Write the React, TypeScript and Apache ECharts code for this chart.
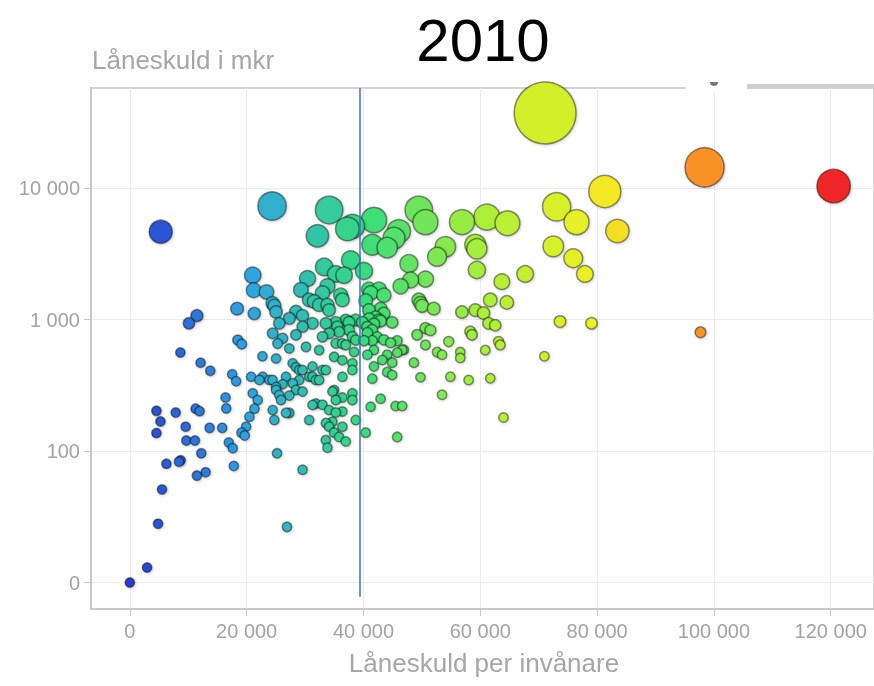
import React, { useEffect, useRef } from "react";
import * as echarts from "echarts";

// [debt per inhabitant (kr), total debt (mkr)]
const blueGroup: [number, number][] = [
  [0, 10], [2950, 13], [4830, 28], [5510, 51], [6260, 80], [8410, 83], [8700, 85], [11480, 65], [12970, 69], [12230, 96], [17800, 77],
  [4550, 202], [5240, 168], [4550, 137], [7850, 196], [9550, 153], [9670, 120], [11140, 120], [11260, 210], [11940, 201], [13650, 150],
  [15810, 150], [16940, 116], [17620, 105], [16380, 255], [16500, 211], [19110, 138], [19670, 131], [19900, 153], [17520, 383], [18200, 339],
  [8650, 561], [12110, 469], [13770, 407], [10120, 936], [11480, 1070], [18480, 698], [19160, 650], [18370, 1210], [5290, 4650],
];

const tealGroup: [number, number][] = [
  [20470, 182], [24350, 7290], [21040, 2170], [21200, 1670], [23400, 1620], [24740, 1270], [25030, 1140], [21300, 1110],
  [22700, 525], [25030, 505], [20760, 367], [22180, 347], [21040, 275], [21890, 244], [21330, 210],
  [24450, 1330], [25590, 935], [24450, 785], [25300, 656], [26150, 719],
  [27300, 1020], [28440, 1150], [29570, 1070], [29570, 882], [28440, 765], [27300, 602],
  [22740, 367], [23890, 347], [25030, 306], [26150, 322], [27300, 264], [28440, 291], [24450, 205], [27300, 195], [25880, 244],
  [28440, 434], [24740, 172], [26730, 195], [25200, 96], [29570, 72], [26900, 26.5],
  [29290, 1680], [25030, 291], [25590, 267], [24450, 347], [26730, 367], [27870, 327], [29000, 347], [29570, 283], [27870, 465],
  [29000, 413], [29570, 413],
];

const greenGroup: [number, number][] = [
  [30150, 620], [30710, 367], [31850, 347], [32980, 413],
  [34120, 6810], [37240, 4890], [38100, 5110], [32120, 4330],
  [37820, 2830], [33270, 2510], [36680, 2170], [35260, 2220],
  [30420, 2050], [33830, 1790], [36100, 1530], [30710, 1410], [32980, 1590],
  [31560, 1370], [32410, 1290], [33830, 1290], [34120, 1180], [36390, 1410],
  [35540, 882], [34120, 785], [36390, 656], [37530, 832], [38670, 698], [38670, 991],
  [30710, 172], [31850, 230], [32980, 225], [34120, 205], [35260, 196], [34120, 153], [36390, 153], [33550, 121], [35830, 128],
  [36970, 118], [33830, 106], [35260, 244], [36390, 255], [38100, 244], [38670, 172],
  [35260, 950], [37530, 950], [35830, 805], [34970, 520], [36390, 367], [34970, 291], [38100, 275], [36390, 200], [34970, 138],
  [38390, 566], [38100, 413], [33560, 163], [34690, 167], [31270, 224], [34690, 283],
  [31270, 935], [33560, 935], [36970, 990], [38100, 740], [32980, 740], [35260, 660], [36970, 640], [32410, 585],
  [36390, 490], [38100, 465], [31270, 440], [33560, 413], [31270, 367], [32410, 347],
];

const limeGroup: [number, number][] = [
  [41800, 5710], [49470, 6810], [50610, 5500], [46060, 4700], [45210, 4150], [41500, 3700], [44060, 3520],
  [47770, 2660], [48060, 2000], [50610, 2030], [46350, 1790], [43500, 1530], [41230, 1590], [49470, 1410], [50040, 1270],
  [40090, 2340], [40940, 1690], [42650, 1690], [40380, 1390], [40940, 1180], [42080, 1045], [42930, 972], [41790, 925],
  [40660, 876], [44920, 950], [43500, 700], [45770, 690], [46910, 590], [42360, 735], [41790, 586], [40660, 540], [44060, 540],
  [41790, 440], [44060, 398], [44920, 378], [41500, 355],
  [50610, 860], [51460, 830], [49180, 765], [50610, 640], [48630, 470], [49760, 364],
  [45500, 220], [46630, 220], [41230, 217], [42930, 250], [40380, 138], [45770, 128],
  [44920, 470], [43210, 492], [46630, 586], [45770, 560], [44640, 665], [41500, 690], [40090, 690], [40660, 790],
  [42650, 991], [40940, 1010], [41500, 832], [39800, 950], [43500, 1110], [42930, 1210], [49760, 1330],
];

const yellowGroup: [number, number][] = [
  [52030, 1210], [52600, 565], [53450, 540], [54880, 367], [58000, 347], [61710, 357], [53450, 268],
  [56860, 5510], [61120, 6000], [64650, 5400], [54020, 3570], [52600, 3000], [59140, 3700], [59420, 3450],
  [59420, 2380], [63690, 1940], [67680, 2220],
  [56860, 1140], [59140, 1180], [60560, 1120], [61710, 1410], [64540, 1350],
  [61410, 935], [62560, 905], [58280, 810], [58570, 765], [63120, 680], [63410, 640], [54590, 680],
  [56570, 565], [56570, 510], [60850, 585], [63970, 180],
];

const highGroup: [number, number][] = [
  [70970, 525], [71100, 37200], [73070, 7200], [76480, 5500], [72500, 3600], [75920, 2920], [77910, 2220],
  [73650, 965], [79040, 936], [81320, 9400], [83470, 4710], [98400, 14360], [97700, 800], [120500, 10350],
];

const xTicks = [0, 20000, 40000, 60000, 80000, 100000, 120000];
const yTicks = [10, 100, 1000, 10000];
const yTickLabels = ["0", "100", "1 000", "10 000"];
const colorStops = ["#2a3ad0", "#2fa2e4", "#36dc7c", "#a8ef3a", "#f2f020", "#f88a28", "#f02828"];
const chartTitle = "2010";
const yTitle = "Låneskuld i mkr";
const xTitle = "Låneskuld per invånare";
const markerX = 39300;
const markerYRange = [7.8, 57500];

const fmt = (v: number) => Math.round(v).toString().replace(/\B(?=(\d{3})+(?!\d))/g, " ");

export default function App() {
  const ref = useRef<HTMLDivElement>(null);
  useEffect(() => {
    const chart = echarts.init(ref.current!, null, { renderer: "svg" });
    const all = [...blueGroup, ...tealGroup, ...greenGroup, ...limeGroup, ...yellowGroup, ...highGroup].sort((a, b) => b[1] - a[1]);
    const data = all.map(([x, y]) => [x, Math.log10(y), y]);
    const yLogTicks = yTicks.map((t) => Math.round(Math.log10(t) * 1e9) / 1e9);
    const font = "Liberation Sans";
    chart.setOption({
      animation: false,
      grid: { left: 91, top: 88, width: 786, height: 521, show: true, borderColor: "#d4d4d4", borderWidth: 2 },
      xAxis: {
        type: "value",
        min: -6650,
        max: 127410,
        axisLine: { show: true, onZero: false, lineStyle: { color: "#c8c8c8", width: 2 } },
        axisTick: { show: true, customValues: xTicks, length: 7, lineStyle: { color: "#c8c8c8" } },
        axisLabel: { customValues: xTicks, formatter: (v: number) => fmt(v), fontSize: 20, color: "#a3a3a3", fontFamily: font, margin: 12 },
        splitLine: { show: true, lineStyle: { color: "#ebebeb", width: 1 } },
      },
      yAxis: {
        type: "value",
        min: Math.log10(6.29),
        max: Math.log10(57620),
        axisLine: { show: true, onZero: false, lineStyle: { color: "#c8c8c8", width: 2 } },
        axisTick: { show: true, customValues: yLogTicks, length: 7, lineStyle: { color: "#c8c8c8" } },
        axisLabel: {
          customValues: yLogTicks,
          formatter: (v: number) => {
            const i = yLogTicks.findIndex((t) => Math.abs(t - v) < 1e-6);
            return i >= 0 ? yTickLabels[i] : "";
          },
          fontSize: 20,
          color: "#a3a3a3",
          fontFamily: font,
          margin: 11,
        },
        splitLine: { show: true, lineStyle: { color: "#ebebeb", width: 1 } },
      },
      visualMap: {
        show: false,
        type: "continuous",
        dimension: 0,
        seriesIndex: 0,
        min: 0,
        max: 120000,
        inRange: { color: colorStops },
      },
      series: [
        {
          type: "scatter",
          z: 2,
          data,
          symbolSize: (v: number[]) => Math.max(9.5, 2 + 0.31 * Math.sqrt(v[2])),
          itemStyle: {
            opacity: 1,
            borderColor: "rgba(0,0,0,0.42)",
            borderWidth: 1.5,
            shadowBlur: 3,
            shadowColor: "rgba(0,0,0,0.22)",
            shadowOffsetX: 1,
            shadowOffsetY: 1,
          },
          emphasis: { disabled: true },
        },
        {
          type: "scatter",
          z: 10,
          data: [],
          markLine: {
            z: 10,
            silent: true,
            symbol: ["none", "none"],
            label: { show: false },
            lineStyle: { color: "#3b6fd4", width: 1.5, type: "solid", opacity: 1 },
            data: [[{ coord: [markerX, Math.log10(markerYRange[0])] }, { coord: [markerX, Math.log10(markerYRange[1])] }]],
          },
        },
      ],
      graphic: [
        { type: "text", x: 483, y: 40, z: 100, style: { text: chartTitle, fontSize: 60, fontFamily: font, fill: "#000", textAlign: "center", textVerticalAlign: "middle" } },
        { type: "text", x: 92, y: 60, z: 100, style: { text: yTitle, fontSize: 26, fontFamily: font, fill: "#a6a6a6", textAlign: "left", textVerticalAlign: "middle" } },
        { type: "text", x: 484, y: 663, z: 100, style: { text: xTitle, fontSize: 26, fontFamily: font, fill: "#a6a6a6", textAlign: "center", textVerticalAlign: "middle" } },
        { type: "rect", z: 100, shape: { x: 686, y: 80, width: 61, height: 12 }, style: { fill: "#fff" } },
        { type: "rect", z: 100, shape: { x: 747, y: 84, width: 130, height: 4 }, style: { fill: "#cfcfcf" } },
        { type: "sector", z: 101, shape: { cx: 714, cy: 82, r: 4, startAngle: 0, endAngle: Math.PI }, style: { fill: "#777" } },
      ],
    });
    return () => chart.dispose();
  }, []);
  return <div ref={ref} style={{ position: "fixed", left: 0, top: 0, width: 874, height: 686 }} />;
}
